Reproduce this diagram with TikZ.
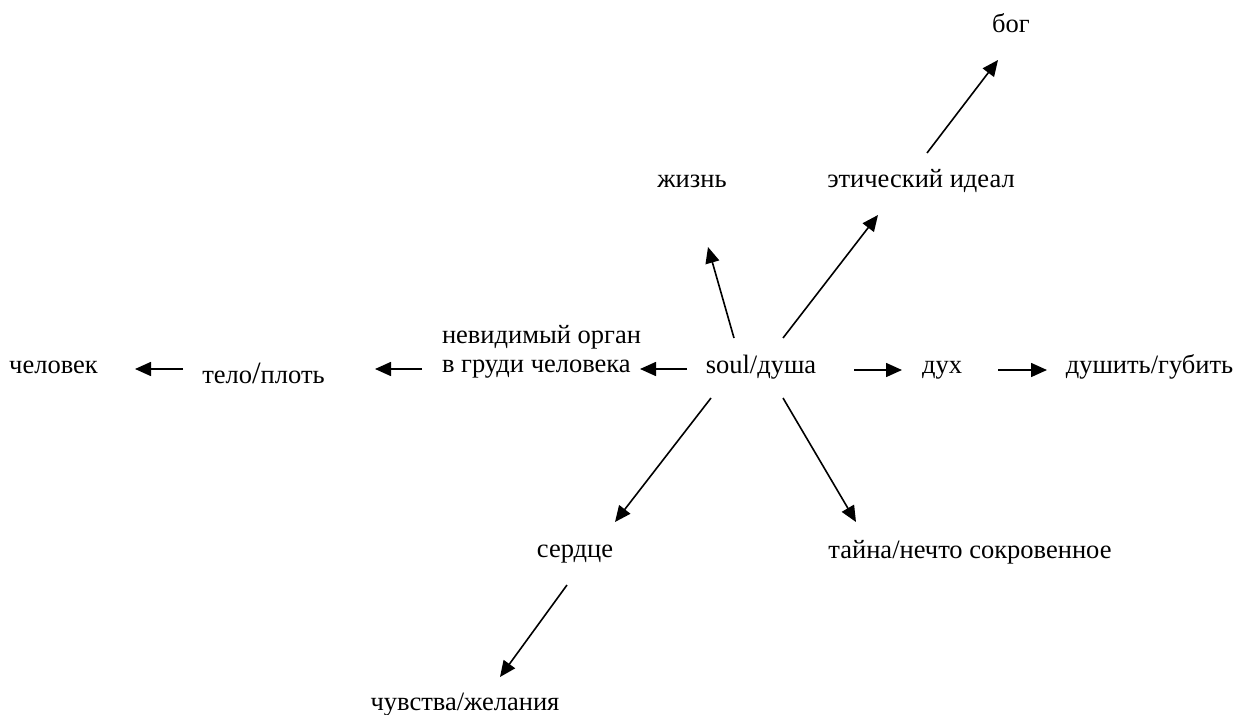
\documentclass[tikz,border=0pt]{standalone}
\usepackage{fontspec}
\setmainfont{Liberation Serif}
\usetikzlibrary{arrows.meta}
\begin{document}
\begin{tikzpicture}[x=1pt,y=-1pt,
  lbl/.style={inner sep=0pt,outer sep=0pt,anchor=base,font=\fontsize{26.5}{29}\selectfont},
  arr/.style={line width=1.6pt,-{Triangle[length=16pt,width=14pt]}}]
\useasboundingbox (0,0) rectangle (1235,715);
% nodes
\node[lbl] (chel) at (53.5,373) {человек};
\node[lbl] (telo) at (263.5,383) {тело{\fontsize{31}{31}\selectfont/}плоть};
\node[lbl,anchor=base west] (org1) at (442,343) {невидимый орган};
\node[lbl,anchor=base west] (org2) at (442,372) {в груди человека};
\node[lbl] (soul) at (761,373) {soul/душа};
\node[lbl] (dukh) at (942,373) {дух};
\node[lbl] (dushit) at (1149.5,373) {душить/губить};
\node[lbl] (zhizn) at (692,187) {жизнь};
\node[lbl] (etich) at (921,187) {этический идеал};
\node[lbl] (bog) at (1011,32) {бог};
\node[lbl] (serdce) at (575,557) {сердце};
\node[lbl] (tayna) at (970,558) {тайна/нечто сокровенное};
\node[lbl] (chuv) at (465,710) {чувства/желания};
% connectors
\draw[arr] ([shift={(-80.5,-14)}]telo.base) -- ([shift={(81.5,-4)}]chel.base);
\draw[arr] ([shift={(-20,-3)}]org2.base west) -- ([shift={(111.5,-14)}]telo.base);
\draw[arr] ([shift={(-74,-4)}]soul.base) -- ([shift={(198,-3)}]org2.base west);
\draw[arr] ([shift={(93,-3)}]soul.base) -- ([shift={(-40,-3)}]dukh.base);
\draw[arr] ([shift={(56,-3)}]dukh.base) -- ([shift={(-102.5,-3)}]dushit.base);
\draw[arr] ([shift={(-27,-35)}]soul.base) -- ([shift={(16,60)}]zhizn.base);
\draw[arr] ([shift={(22,-35)}]soul.base) -- ([shift={(-43,28)}]etich.base);
\draw[arr] ([shift={(6,-34)}]etich.base) -- ([shift={(-13,28)}]bog.base);
\draw[arr] ([shift={(-50,25)}]soul.base) -- ([shift={(40,-35)}]serdce.base);
\draw[arr] ([shift={(22,25)}]soul.base) -- ([shift={(-114,-36)}]tayna.base);
\draw[arr] ([shift={(-8,28)}]serdce.base) -- ([shift={(35,-33)}]chuv.base);
\end{tikzpicture}
\end{document}
